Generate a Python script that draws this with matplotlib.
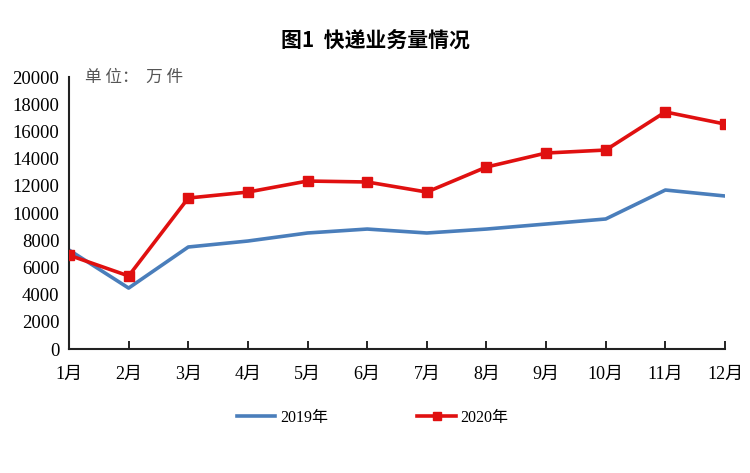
import matplotlib
matplotlib.use('Agg')
import matplotlib.pyplot as plt

plt.rcParams['font.family'] = ['Liberation Serif', 'Noto Sans CJK SC']

months = ['1月', '2月', '3月', '4月', '5月', '6月', '7月', '8月', '9月', '10月', '11月', '12月']
vol_2019 = [7280, 4480, 7500, 7940, 8530, 8820, 8530, 8820, 9190, 9560, 11690, 11250]
vol_2020 = [6900, 5370, 11100, 11540, 12350, 12280, 11540, 13380, 14410, 14630, 17430, 16540]

fig = plt.figure(figsize=(7.5, 4.73), dpi=100)
ax = fig.add_axes([69 / 750, 1 - 349 / 473, (725 - 69) / 750, (349 - 77) / 473])

x = list(range(len(months)))
ax.plot(x, vol_2019, color='#4a7ebb', lw=2.6, label='2019年', zorder=2)
ax.plot(x, vol_2020, color='#e01010', lw=2.6, marker='s', ms=6.5, label='2020年', zorder=3)

ax.set_xlim(0, 11)
ax.set_ylim(0, 20000)
ax.set_yticks(range(0, 20001, 2000))
ax.set_xticks(x)
ax.set_xticklabels(months)
ax.tick_params(axis='x', direction='in', length=6, width=1.2, pad=12, labelsize=13)
ax.tick_params(axis='y', length=0, pad=7, labelsize=13.5)
for s in ['top', 'right']:
    ax.spines[s].set_visible(False)
ax.spines['left'].set_linewidth(1.5)
ax.spines['bottom'].set_linewidth(1.5)
ax.spines['left'].set_color('#222222')
ax.spines['bottom'].set_color('#222222')

ax.text(0.26, 20000, '单 位：  万 件', fontsize=12, va='center', ha='left', color='#555555',
        family=['Noto Sans CJK SC'])

fig.text(0.5, 1 - 40 / 473, '图1  快递业务量情况', ha='center', va='center', fontsize=15,
         fontweight='bold', family=['Noto Sans CJK SC'])

fig.legend(loc='center', bbox_to_anchor=(0.497, 1 - 418 / 473), ncol=2, frameon=False,
           fontsize=11.5, columnspacing=5.6, handlelength=2.4, handletextpad=0.3,
           markerscale=0.8)

fig.savefig('out.png', dpi=100, facecolor='white')
